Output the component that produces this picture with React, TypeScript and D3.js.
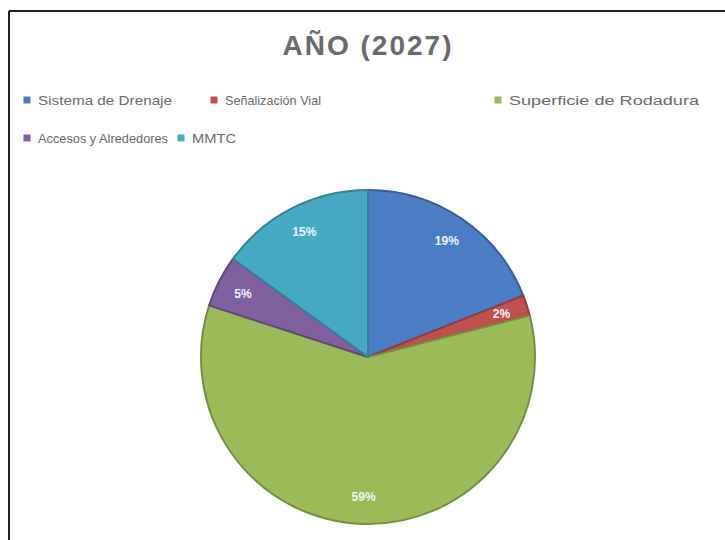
import React from "react";
import * as d3 from "d3";

const title = "AÑO (2027)";
const categories = [
  "Sistema de Drenaje",
  "Señalización Vial",
  "Superficie de Rodadura",
  "Accesos y Alrededores",
  "MMTC",
];
const values = [19, 2, 59, 5, 15];
const colors = ["#4a7ec4", "#c0504d", "#9bbb59", "#7f5fa0", "#46aac5"];

const W = 725;
const H = 540;
const cx = 368;
const cy = 357;
const R = 167;

// legend layout (x positions of marker and row)
const legendPos = [
  { x: 27, row: 0 },
  { x: 214, row: 0 },
  { x: 498, row: 0 },
  { x: 27, row: 1 },
  { x: 181, row: 1 },
];
const legendTextWidth = [134, 96, 190, 130, 44];

export default function App() {
  const pie = d3.pie<number>().sort(null).value((d) => d);
  const arcs = pie(values);
  const arc = d3.arc<d3.PieArcDatum<number>>().innerRadius(0).outerRadius(R);
  const labelArc = d3
    .arc<d3.PieArcDatum<number>>()
    .innerRadius(R * 0.84)
    .outerRadius(R * 0.84);
  const total = d3.sum(values);

  return (
    <svg
      width={W}
      height={H}
      style={{ position: "absolute", left: 0, top: 0, background: "#fff" }}
      fontFamily="'Liberation Sans', Arial, sans-serif"
    >
      <rect x={0} y={0} width={W} height={H} fill="#fff" />
      <line x1={9} y1={11} x2={W} y2={11} stroke="#222" strokeWidth={2} />
      <line x1={9} y1={11} x2={9} y2={H} stroke="#222" strokeWidth={2} />

      <text
        x={368}
        y={55}
        textAnchor="middle"
        fontSize={28}
        fontWeight="bold"
        fill="#6a6a6a"
        letterSpacing={2}
      >
        {title}
      </text>

      {categories.map((c, i) => {
        const p = legendPos[i];
        const y = p.row === 0 ? 100 : 138;
        return (
          <g key={c}>
            <rect x={p.x - 3.5} y={y - 3.5} width={7} height={7} fill={colors[i]} />
            <text
              x={p.x + 11}
              y={y + 4.5}
              fontSize={13}
              fill="#6a6a6a"
              textLength={legendTextWidth[i]}
              lengthAdjust="spacingAndGlyphs"
            >
              {c}
            </text>
          </g>
        );
      })}

      <g transform={`translate(${cx},${cy})`}>
        {arcs.map((a, i) => (
          <path
            key={i}
            d={arc(a) || ""}
            fill={colors[i]}
            stroke={d3.color(colors[i])!.darker(0.8).formatHex()}
            strokeWidth={2}
            strokeLinejoin="round"
          />
        ))}
        {arcs.map((a, i) => {
          const [lx, ly] = labelArc.centroid(a);
          return (
            <text
              key={"l" + i}
              x={lx}
              y={ly}
              dy="0.35em"
              textAnchor="middle"
              fontSize={12}
              fontWeight="bold"
              fill="#eef4fb"
            >
              {Math.round((values[i] / total) * 100) + "%"}
            </text>
          );
        })}
      </g>
    </svg>
  );
}
